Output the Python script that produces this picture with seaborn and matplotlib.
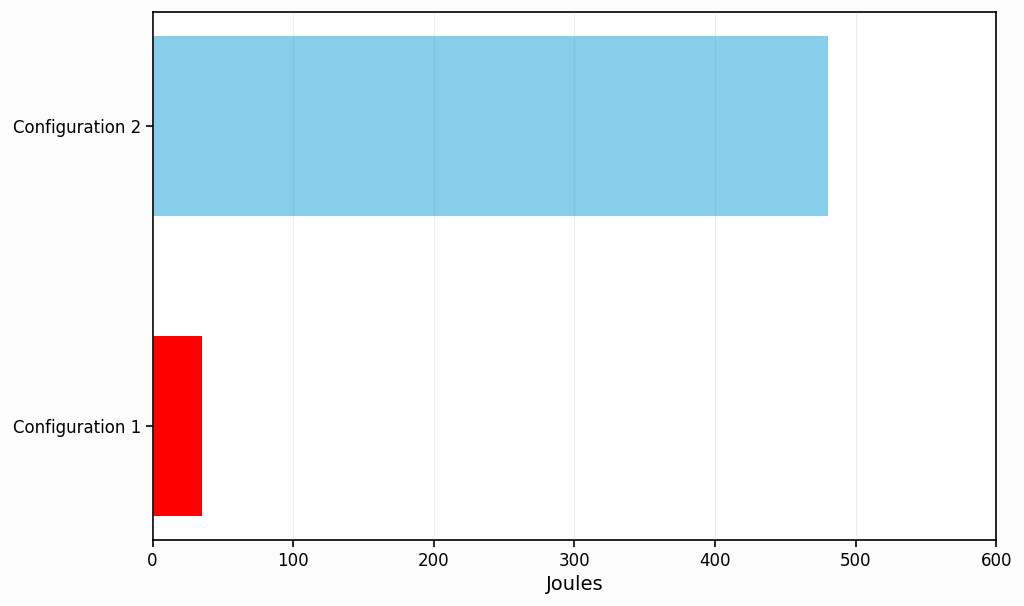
import numpy as np
import pandas as pd
import seaborn as sns
import matplotlib.pyplot as plt

configs = ['Configuration 1', 'Configuration 2']
joules = [35, 480]
bar_colors = ['red', 'skyblue']

sns.set_style('ticks')
plt.rcParams['font.family'] = ['DejaVu Sans']
plt.rcParams['text.color'] = 'black'
plt.rcParams['axes.labelcolor'] = 'black'
plt.rcParams['xtick.color'] = 'black'
plt.rcParams['ytick.color'] = 'black'

df = pd.DataFrame({'config': configs, 'joules': joules})

fig, ax = plt.subplots(figsize=(10.24, 6.06), dpi=100)
fig.patch.set_facecolor('#fcfcfc')
ax.set_facecolor('white')

# seaborn puts the first category on top, so reverse the order
order = configs[::-1]
sns.barplot(data=df, x='joules', y='config', order=order, hue='config',
            palette=dict(zip(configs, bar_colors)), width=0.6, saturation=1,
            linewidth=0, legend=False, ax=ax)

ax.set_xlim(0, 600)
ax.set_ylim(1.38, -0.38)
ax.set_xticks(np.arange(0, 601, 100))
ax.xaxis.grid(True, color='gray', alpha=0.15, linewidth=0.8)
ax.set_axisbelow(False)
ax.set_xlabel('Joules', fontsize=14)
ax.set_ylabel('')
ax.tick_params(axis='both', labelsize=12, length=5, width=1.2, color='black')
for s in ax.spines.values():
    s.set_visible(True)
    s.set_color('black')
    s.set_linewidth(1.2)

fig.subplots_adjust(left=0.149, right=0.973, top=0.98, bottom=0.109)
fig.savefig('out.png', dpi=100, facecolor=fig.get_facecolor())
